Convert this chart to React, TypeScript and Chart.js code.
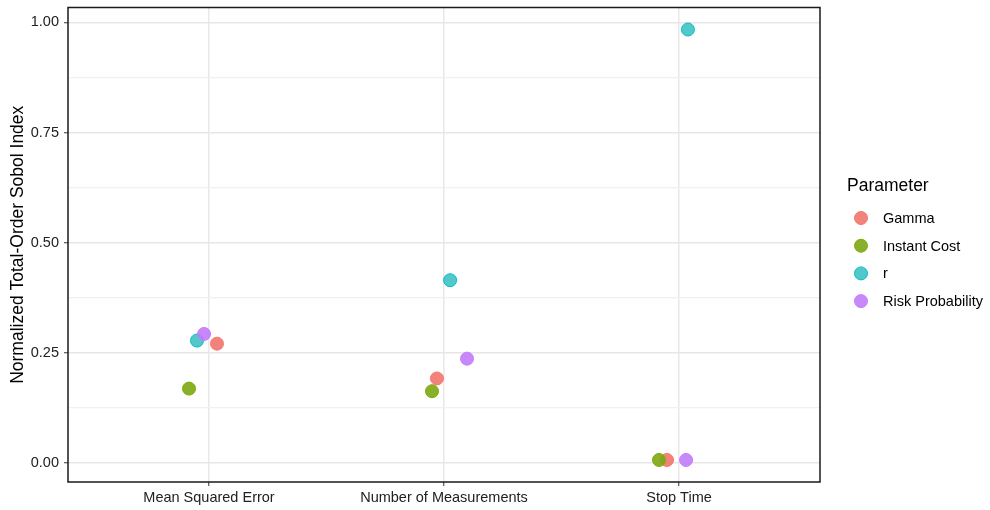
import React, { useEffect, useRef } from "react";
import { Chart, registerables } from "chart.js";

Chart.register(...registerables);

const categories = ["Mean Squared Error", "Number of Measurements", "Stop Time"];
const seriesNames = ["Gamma", "Instant Cost", "r", "Risk Probability"];
const seriesColors = ["#F8766D", "#7CAE00", "#00BFC4", "#C77CFF"];
const seriesFill = ["rgba(240,118,109,0.9)", "rgba(124,166,20,0.9)", "rgba(40,186,190,0.8)", "rgba(193,124,250,0.9)"];

// jittered x positions (category index 1..3 plus jitter) and y values
const gammaX = [1.034, 1.97, 2.949];
const gammaY = [0.271, 0.192, 0.007];
const instantX = [0.915, 1.949, 2.915];
const instantY = [0.169, 0.163, 0.007];
const rX = [0.949, 2.026, 3.038];
const rY = [0.278, 0.415, 0.984];
const riskX = [0.979, 2.098, 3.03];
const riskY = [0.293, 0.237, 0.007];

const seriesXs = [gammaX, instantX, rX, riskX];
const seriesYs = [gammaY, instantY, rY, riskY];

const yTicks = [0, 0.125, 0.25, 0.375, 0.5, 0.625, 0.75, 0.875, 1];
const yTitle = "Normalized Total-Order Sobol Index";
const legendTitle = "Parameter";

const FONT = "'Liberation Sans', Arial, sans-serif";

const isMajor = (n: number) => Math.abs(n * 4 - Math.round(n * 4)) < 1e-6;

export default function App() {
  const ref = useRef<HTMLCanvasElement | null>(null);
  useEffect(() => {
    if (!ref.current) return;
    const decor = {
      id: "decor",
      afterDraw(chart: any) {
        const ctx = chart.ctx;
        const a = chart.chartArea;
        ctx.save();
        ctx.strokeStyle = "#1a1a1a";
        ctx.lineWidth = 1.5;
        ctx.strokeRect(a.left, a.top, a.right - a.left, a.bottom - a.top);
        // y title
        ctx.fillStyle = "#000";
        ctx.font = `17.5px ${FONT}`;
        ctx.textAlign = "center";
        ctx.textBaseline = "middle";
        ctx.translate(18, (a.top + a.bottom) / 2);
        ctx.rotate(-Math.PI / 2);
        ctx.fillText(yTitle, 0, 0);
        ctx.restore();
        // legend
        ctx.save();
        ctx.fillStyle = "#000";
        ctx.font = `17.5px ${FONT}`;
        ctx.textAlign = "left";
        ctx.textBaseline = "middle";
        ctx.fillText(legendTitle, 847, 186);
        ctx.font = `14.5px ${FONT}`;
        seriesNames.forEach((name, i) => {
          const y = 218 + i * 27.7;
          ctx.beginPath();
          ctx.arc(861, y, 6.5, 0, Math.PI * 2);
          ctx.fillStyle = seriesFill[i];
          ctx.fill();
          ctx.strokeStyle = seriesColors[i];
          ctx.lineWidth = 1;
          ctx.stroke();
          ctx.fillStyle = "#000";
          ctx.fillText(name, 883, y + 1);
        });
        ctx.restore();
      },
    };
    const chart = new Chart(ref.current, {
      type: "scatter",
      data: {
        datasets: seriesNames.map((name, i) => ({
          label: name,
          data: seriesXs[i].map((x, j) => ({ x, y: seriesYs[i][j] })),
          backgroundColor: seriesFill[i],
          borderColor: seriesColors[i],
          borderWidth: 1,
          pointRadius: 6.5,
          order: seriesNames.length - i,
        })),
      },
      options: {
        animation: false,
        responsive: false,
        devicePixelRatio: 1,
        layout: { padding: { left: 0, top: 5, right: 170, bottom: 0 } },
        plugins: { legend: { display: false }, tooltip: { enabled: false } },
        scales: {
          x: {
            type: "linear",
            min: 0.4,
            max: 3.6,
            afterBuildTicks: (s: any) => {
              s.ticks = categories.map((_, i) => ({ value: i + 1 }));
            },
            afterFit: (s: any) => {
              s.height = 28;
              s.paddingLeft = 0;
              s.paddingRight = 0;
            },
            ticks: {
              callback: (v: any) => categories[Math.round(Number(v)) - 1] ?? "",
              color: "#222",
              font: { family: FONT, size: 14.5 },
              padding: 3,
              maxRotation: 0,
              autoSkip: false,
            },
            grid: { color: "#E8E8E8", lineWidth: 1.5, tickLength: 4, tickColor: "#333", tickWidth: 1 },
            border: { display: false },
          },
          y: {
            type: "linear",
            min: -0.043,
            max: 1.034,
            afterBuildTicks: (s: any) => {
              s.ticks = yTicks.map((v) => ({ value: v }));
            },
            afterFit: (s: any) => {
              s.width = 68;
              s.paddingTop = 0;
              s.paddingBottom = 0;
            },
            ticks: {
              callback: (v: any) => {
                const n = Number(v);
                return isMajor(n) ? n.toFixed(2) : "";
              },
              color: "#222",
              font: { family: FONT, size: 14.5, lineHeight: 0.5 },
              padding: 5,
              autoSkip: false,
            },
            grid: {
              color: (c: any) => (isMajor(c.tick ? c.tick.value : 0) ? "#E6E6E6" : "#F0F0F0"),
              lineWidth: (c: any) => (isMajor(c.tick ? c.tick.value : 0) ? 1.5 : 1.2),
              tickLength: 4,
              tickColor: (c: any) => (isMajor(c.tick ? c.tick.value : 0) ? "#333" : "rgba(0,0,0,0)"),
              tickWidth: 1,
            },
            border: { display: false },
          },
        },
      },
      plugins: [decor],
    } as any);
    return () => chart.destroy();
  }, []);
  return (
    <div style={{ position: "absolute", left: 0, top: 0, width: 990, height: 510, background: "#fff" }}>
      <canvas ref={ref} width={990} height={510} style={{ display: "block", width: 990, height: 510 }} />
    </div>
  );
}
